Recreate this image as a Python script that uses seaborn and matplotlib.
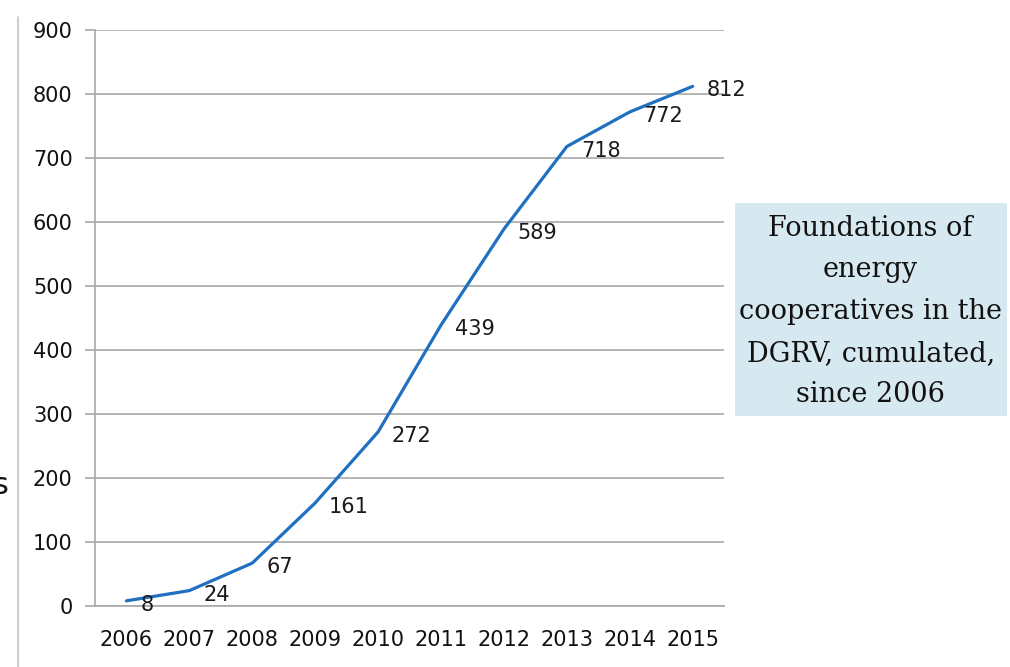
import pandas as pd
import matplotlib.pyplot as plt
import seaborn as sns
from matplotlib.lines import Line2D
from matplotlib.patches import Rectangle

# Data
years = ["2006", "2007", "2008", "2009", "2010", "2011", "2012", "2013", "2014", "2015"]
foundations = [8, 24, 67, 161, 272, 439, 589, 718, 772, 812]
y_ticks = [0, 100, 200, 300, 400, 500, 600, 700, 800, 900]
box_text = "Foundations of\nenergy\ncooperatives in the\nDGRV, cumulated,\nsince 2006"

df = pd.DataFrame({"Year": years, "Foundations": foundations})

sns.set_theme(style="white")
plt.rcParams['font.family'] = ['DejaVu Sans']

GRID = "#a8a8a8"
LINE = "#1f70c1"

fig = plt.figure(figsize=(10.1, 6.67), dpi=100)
ax = fig.add_axes([0.094, 0.0915, 0.623, 0.8635])

sns.lineplot(data=df, x="Year", y="Foundations", ax=ax, color=LINE,
             linewidth=2.3, sort=False)

# data labels to the right of each point
for i, v in enumerate(foundations):
    ax.annotate(str(v), (i, v), xytext=(10, -3), textcoords="offset points",
                ha="left", va="center", fontsize=15, color="#1a1a1a")

ax.set_xlim(-0.5, len(years) - 0.5)
ax.set_ylim(0, 900)
ax.set_yticks(y_ticks)
ax.set_xticks(range(len(years)))
ax.set_xticklabels(years)
ax.set_xticks([i - 0.5 for i in range(len(years) + 1)], minor=True)
ax.tick_params(axis="x", which="major", length=0, pad=17, labelsize=15, labelcolor="#111111")
ax.tick_params(axis="x", which="minor", length=7, width=1.2, color=GRID, direction="out")
ax.tick_params(axis="y", length=7, width=1.2, color=GRID, pad=9, labelsize=15, labelcolor="#111111",
               left=True)
ax.yaxis.grid(True, color=GRID, linewidth=1.2)
ax.set_axisbelow(True)
ax.set_xlabel("")
ax.set_ylabel("")
for side in ["top", "right"]:
    ax.spines[side].set_visible(False)
for side in ["left", "bottom"]:
    ax.spines[side].set_color(GRID)
    ax.spines[side].set_linewidth(1.2)

# thin separator line at the left edge and cut-off label fragment
fig.add_artist(Line2D([0.018, 0.018], [0.0, 0.975], color="#c4c4c4", linewidth=1.2))
fig.text(0.0, 0.272, "s", fontsize=22, ha="center", va="center", color="#111111")

# caption box
fig.add_artist(Rectangle((0.728, 0.376), 0.269, 0.320, transform=fig.transFigure,
                         facecolor="#d6e9f0", edgecolor="none"))
fig.text(0.862, 0.533, box_text, ha="center", va="center", fontsize=19.5,
         family=["DejaVu Serif"], color="#111111", linespacing=1.7)

fig.savefig("out.png", dpi=100)
